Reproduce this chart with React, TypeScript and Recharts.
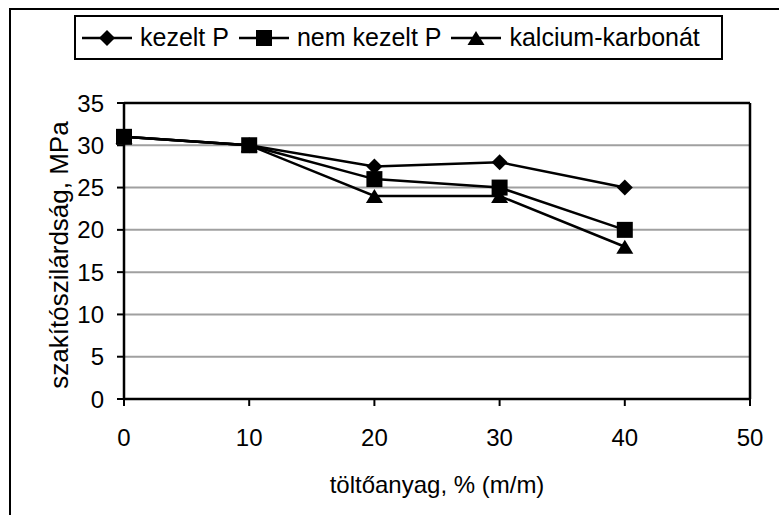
import React from 'react';
import {
  LineChart, Line, XAxis, YAxis, CartesianGrid, ReferenceLine, Label,
} from 'recharts';

// töltőanyag tartalom, % (m/m)
const fillerContent = [0, 10, 20, 30, 40];
// szakítószilárdság, MPa
const treatedP = [31, 30, 27.5, 28, 25];
const untreatedP = [31, 30, 26, 25, 20];
const calciumCarbonate = [31, 30, 24, 24, 18];

const xTicks = [0, 10, 20, 30, 40, 50];
const yTicks = [0, 5, 10, 15, 20, 25, 30, 35];

const seriesNames = ['kezelt P', 'nem kezelt P', 'kalcium-karbonát'];

const data = fillerContent.map((x, i) => ({
  x,
  treated: treatedP[i],
  untreated: untreatedP[i],
  caco3: calciumCarbonate[i],
}));

const FONT = '"Liberation Sans", Arial, sans-serif';

type Shape = 'diamond' | 'square' | 'triangle';

const markerPath = (shape: Shape, cx: number, cy: number) => {
  if (shape === 'diamond') {
    return `M${cx},${cy - 8} L${cx + 8},${cy} L${cx},${cy + 8} L${cx - 8},${cy} Z`;
  }
  if (shape === 'square') {
    return `M${cx - 8},${cy - 8} h16 v16 h-16 Z`;
  }
  return `M${cx},${cy - 7} L${cx + 8.5},${cy + 7} L${cx - 8.5},${cy + 7} Z`;
};

const makeDot = (shape: Shape) => (props: any) => {
  const { cx, cy, index } = props;
  if (cx == null || cy == null) return <g key={`${shape}-${index}`} />;
  return <path key={`${shape}-${index}`} d={markerPath(shape, cx, cy)} fill="#000" stroke="none" />;
};

const LegendItem = ({ name, shape }: { name: string; shape: Shape }) => (
  <div style={{ display: 'flex', alignItems: 'center', marginRight: 10 }}>
    <svg width={50} height={20} style={{ display: 'block' }}>
      <line x1={0} y1={10} x2={50} y2={10} stroke="#000" strokeWidth={2.5} />
      <path d={markerPath(shape, 25, 10)} fill="#000" />
    </svg>
    <span style={{ marginLeft: 8, lineHeight: '25px' }}>{name}</span>
  </div>
);

const YTitle = () => (
  <text
    x={59}
    y={255}
    transform="rotate(-90, 59, 255)"
    textAnchor="middle"
    dominantBaseline="central"
    fill="#000"
    fontSize={26}
    fontFamily={FONT}
  >
    szakítószilárdság, MPa
  </text>
);

export default function App() {
  return (
    <div
      style={{
        position: 'absolute', left: 0, top: 0, width: 779, height: 515,
        overflow: 'hidden', background: '#fff', fontFamily: FONT,
      }}
    >
      {/* outer frame of the chart object */}
      <div
        style={{
          position: 'absolute', left: 9, top: 8, width: 1000, height: 1000,
          border: '2px solid #000',
        }}
      />
      <LineChart
        width={779}
        height={515}
        data={data}
        margin={{ top: 103, right: 29, bottom: 0, left: 0 }}
        style={{ position: 'absolute', left: 0, top: 0 }}
      >
        <CartesianGrid vertical={false} stroke="#a0a0a0" strokeWidth={2} />
        <XAxis
          dataKey="x"
          type="number"
          domain={[0, 50]}
          ticks={xTicks}
          height={116}
          tickSize={7}
          tickMargin={23}
          axisLine={{ stroke: '#000', strokeWidth: 2.5 }}
          tickLine={{ stroke: '#000', strokeWidth: 2 }}
          tick={{ fill: '#000', fontSize: 24, fontFamily: FONT }}
        >
          <Label
            value="töltőanyag, % (m/m)"
            position="insideBottom"
            offset={22}
            style={{ fill: '#000', fontSize: 24, fontFamily: FONT }}
          />
        </XAxis>
        <YAxis
          type="number"
          domain={[0, 35]}
          ticks={yTicks}
          width={124}
          tickSize={7}
          tickMargin={13}
          axisLine={{ stroke: '#000', strokeWidth: 2.5 }}
          tickLine={{ stroke: '#000', strokeWidth: 2 }}
          tick={{ fill: '#000', fontSize: 24, fontFamily: FONT }}
        >
          <Label content={() => <YTitle />} />
        </YAxis>
        <ReferenceLine y={35} stroke="#000" strokeWidth={2.5} />
        <ReferenceLine x={50} stroke="#000" strokeWidth={2.5} />
        <Line
          type="linear"
          dataKey="treated"
          name={seriesNames[0]}
          stroke="#000"
          strokeWidth={2.5}
          dot={makeDot('diamond')}
          activeDot={false}
          isAnimationActive={false}
        />
        <Line
          type="linear"
          dataKey="untreated"
          name={seriesNames[1]}
          stroke="#000"
          strokeWidth={2.5}
          dot={makeDot('square')}
          activeDot={false}
          isAnimationActive={false}
        />
        <Line
          type="linear"
          dataKey="caco3"
          name={seriesNames[2]}
          stroke="#000"
          strokeWidth={2.5}
          dot={makeDot('triangle')}
          activeDot={false}
          isAnimationActive={false}
        />
      </LineChart>
      {/* legend box */}
      <div
        style={{
          position: 'absolute', left: 74, top: 15, width: 649, height: 45,
          boxSizing: 'border-box', border: '2px solid #000', background: '#fff',
          display: 'flex', alignItems: 'center', paddingLeft: 6,
          fontSize: 25, color: '#000', whiteSpace: 'nowrap',
        }}
      >
        <LegendItem name={seriesNames[0]} shape="diamond" />
        <LegendItem name={seriesNames[1]} shape="square" />
        <LegendItem name={seriesNames[2]} shape="triangle" />
      </div>
    </div>
  );
}
